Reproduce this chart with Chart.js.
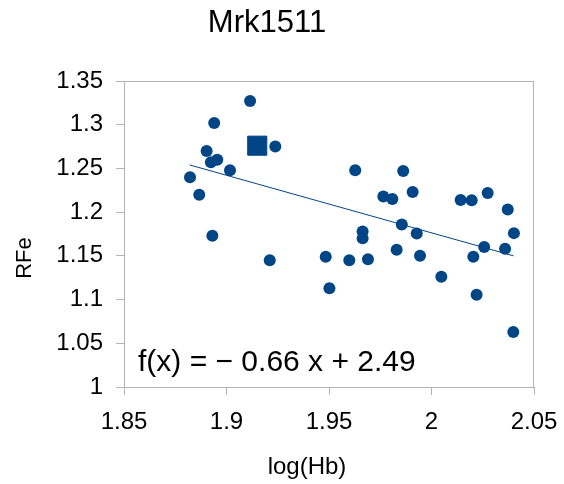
<!DOCTYPE html>
<html>
<head>
<meta charset="utf-8">
<script src="https://cdn.jsdelivr.net/npm/chart.js@4"></script>
<style>
  html, body { margin: 0; padding: 0; background: #fff; }
</style>
</head>
<body>
<canvas id="chart" width="564" height="484"></canvas>
<script>
const TITLE = 'Mrk1511';
const X_TITLE = 'log(Hb)';
const Y_TITLE = 'RFe';
const EQUATION = 'f(x) = \u2212 0.66 x + 2.49';
const BLUE = '#004586';
const GREY = '#b3b3b3';

// measurements
const logHb = [1.9115, 1.894, 1.9238, 1.8903, 1.8955, 1.8924, 1.9017, 1.8822, 1.8867, 1.8931,
    1.9211, 1.9484, 1.9502, 1.9628, 1.9862, 1.9765, 1.9809, 1.9908, 2.0142, 2.0196,
    2.0274, 2.0372, 2.0402, 1.9664, 1.9664, 1.9855, 1.9928, 1.9599, 1.969, 1.983,
    1.9944, 2.0048, 2.0204, 2.0257, 2.022, 2.0359, 2.0399];
const rfe = [1.327, 1.302, 1.275, 1.270, 1.260, 1.257, 1.248, 1.240, 1.220, 1.173,
    1.145, 1.149, 1.113, 1.248, 1.247, 1.218, 1.215, 1.223, 1.214, 1.2135,
    1.222, 1.203, 1.176, 1.178, 1.170, 1.186, 1.1757, 1.145, 1.146, 1.157,
    1.150, 1.126, 1.149, 1.160, 1.1055, 1.158, 1.063];

// the highlighted (mean) point
const meanX = [1.915];
const meanY = [1.276];

// linear trend end points
const trendX = [1.882, 2.040];
const trendY = [1.254, 1.150];

const xTicks = [1.85, 1.9, 1.95, 2, 2.05];
const yTicks = [1, 1.05, 1.1, 1.15, 1.2, 1.25, 1.3, 1.35];

function toPoints(xs, ys) {
    return xs.map((x, i) => ({x: x, y: ys[i]}));
}

function fixAxis(size, key) {
    return function (scale) {
        scale[key] = size;
        scale.paddingLeft = 0;
        scale.paddingRight = 0;
        scale.paddingTop = 0;
        scale.paddingBottom = 0;
    };
}

const fmt = v => String(Number(v.toFixed(2)));

const textPlugin = {
    id: 'extraText',
    beforeDatasetsDraw(chart) {
        const {ctx, chartArea: a} = chart;
        ctx.save();
        ctx.strokeStyle = GREY;
        ctx.lineWidth = 1;
        ctx.strokeRect(a.left + 0.5, a.top + 0.5, a.right - a.left - 1, a.bottom - a.top);
        ctx.restore();
    },
    afterDraw(chart) {
        const {ctx, chartArea: a} = chart;
        ctx.save();
        ctx.fillStyle = '#000';
        ctx.textBaseline = 'alphabetic';
        ctx.font = "30px 'Liberation Sans', Arial, sans-serif";
        ctx.textAlign = 'left';
        ctx.fillText(EQUATION, a.left + 14, a.bottom - 16);

        ctx.font = "24px 'Liberation Sans', Arial, sans-serif";
        ctx.textAlign = 'center';
        ctx.fillText(X_TITLE, 307, 474);

        ctx.font = "22px 'Liberation Sans', Arial, sans-serif";
        ctx.translate(31, 258);
        ctx.rotate(-Math.PI / 2);
        ctx.fillText(Y_TITLE, 0, 0);
        ctx.restore();
    }
};

Chart.defaults.font.family = "'Liberation Sans', Arial, sans-serif";
Chart.defaults.color = '#000';

new Chart(document.getElementById('chart'), {
    type: 'scatter',
    data: {
        datasets: [
            {
                label: 'trend',
                data: toPoints(trendX, trendY),
                showLine: true,
                borderColor: BLUE,
                borderWidth: 1,
                pointRadius: 0,
                fill: false
            },
            {
                label: 'RFe',
                data: toPoints(logHb, rfe),
                backgroundColor: BLUE,
                borderColor: BLUE,
                borderWidth: 0,
                pointRadius: 6,
                pointHoverRadius: 6
            },
            {
                label: 'mean',
                data: toPoints(meanX, meanY),
                pointStyle: 'rect',
                backgroundColor: BLUE,
                borderColor: BLUE,
                borderWidth: 1,
                pointRadius: 13.5,
                pointHoverRadius: 13.5
            }
        ]
    },
    options: {
        responsive: false,
        animation: false,
        devicePixelRatio: 1,
        layout: {padding: {left: 0, right: 30, top: 0, bottom: 0}},
        plugins: {
            legend: {display: false},
            tooltip: {enabled: false},
            title: {
                display: true,
                text: TITLE,
                color: '#000',
                font: {size: 31, weight: 'normal'},
                padding: {top: 5, bottom: 38.8}
            }
        },
        scales: {
            x: {
                type: 'linear',
                min: xTicks[0],
                max: xTicks[xTicks.length - 1],
                afterBuildTicks: s => { s.ticks = xTicks.map(v => ({value: v})); },
                afterFit: fixAxis(97, 'height'),
                grid: {drawOnChartArea: false, drawTicks: true, tickLength: 8, color: GREY},
                border: {color: GREY},
                ticks: {font: {size: 24}, padding: 13, callback: fmt, maxRotation: 0, color: '#000'}
            },
            y: {
                type: 'linear',
                min: yTicks[0],
                max: yTicks[yTicks.length - 1],
                afterBuildTicks: s => { s.ticks = yTicks.map(v => ({value: v})); },
                afterFit: fixAxis(124, 'width'),
                grid: {drawOnChartArea: false, drawTicks: true, tickLength: 8, color: GREY},
                border: {color: GREY},
                ticks: {font: {size: 24}, padding: 13, callback: fmt, color: '#000'}
            }
        }
    },
    plugins: [textPlugin]
});
</script>
</body>
</html>
